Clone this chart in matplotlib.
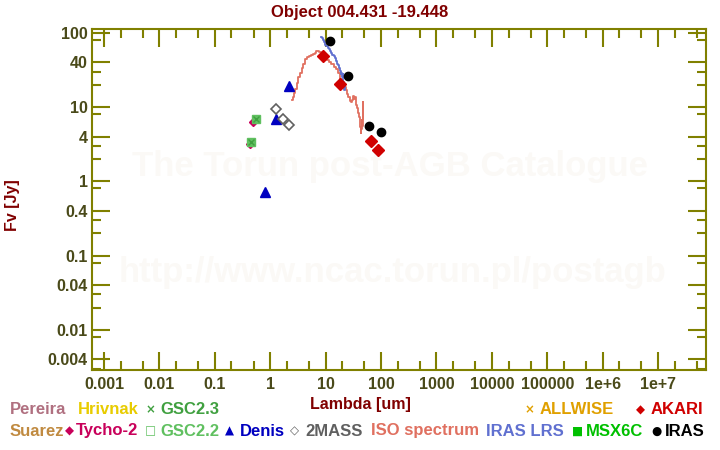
import matplotlib.pyplot as plt
from matplotlib.ticker import FixedLocator, FixedFormatter

plt.rcParams['font.family'] = ['Liberation Sans', 'DejaVu Sans']
plt.rcParams['font.weight'] = 'bold'

# photometry: wavelength [um], flux [Jy]
iras_wl = [12, 25, 60, 100]
iras_fl = [76.6, 25.9, 5.5, 4.56]
akari_wl = [9, 18, 65, 90]
akari_fl = [48.5, 20.2, 3.45, 2.61]
denis_wl = [0.82, 1.25, 2.17]
denis_fl = [0.72, 6.8, 19.4]
tmass_wl = [1.27, 1.7, 2.2]
tmass_fl = [9.3, 6.8, 5.8]
tycho_wl = [0.43, 0.496]
tycho_fl = [3.18, 6.3]
gsc22_wl = [0.456, 0.561]
gsc22_fl = [3.41, 6.8]
gsc23_wl = [0.456, 0.561]
gsc23_fl = [3.41, 6.8]

# ISO spectrum
iso_wl = [2.45, 2.6, 2.75, 2.9, 3.1, 3.3, 3.55, 3.8, 4.1, 4.4, 4.8, 5.2, 5.6, 6.2,
          6.6, 6.9, 7.3, 7.9, 8.5, 9.2, 10.0, 11.1, 12.2, 13.3, 14.5, 16.0, 17.3,
          18.8, 20.0, 21.2, 22.3, 23.5, 25.0, 26.4, 27.8, 29.0, 30.5, 31.6, 32.8,
          34.0, 35.3, 36.5, 37.8, 39.0, 40.5, 41.5, 42.5, 43.4, 44.2, 45.3, 46.2,
          47.0, 47.8, 48.2]
iso_fl = [12.3, 13.5, 15.5, 17.5, 21.0, 25.0, 28.5, 33.5, 38.0, 44.0, 47.0, 49.0,
          50.0, 51.5, 54.0, 56.5, 56.0, 55.0, 52.5, 49.0, 46.5, 43.0, 40.5, 38.0,
          35.0, 32.0, 28.5, 24.0, 21.5, 20.0, 18.5, 17.0, 15.0, 13.5, 12.0, 11.5,
          12.5, 14.0, 13.0, 13.5, 12.5, 10.5, 9.6, 8.2, 7.3, 6.2, 5.4, 4.4, 5.0,
          6.7, 5.5, 8.0, 11.5, 7.0]

# IRAS LRS spectrum
lrs_wl = [8.3, 8.6, 9.0, 9.5, 10.1, 10.6, 11.2, 11.8, 12.4, 13.0, 13.6, 14.3,
          15.0, 15.6, 16.4, 17.0, 17.6, 18.3, 19.0, 19.6, 20.0, 20.4, 21.0,
          21.6, 22.2, 22.6]
lrs_fl = [88, 85, 80, 74, 69, 66, 62, 60, 57, 54, 50, 48, 45, 42, 38, 37, 33,
          31, 28, 29, 25, 28, 22, 20, 17, 19]

# axis ticks
x_major = [1e-3, 1e-2, 1e-1, 1, 10, 100, 1e3, 1e4, 1e5, 1e6, 1e7]
x_labels = ['0.001', '0.01', '0.1', '1', '10', '100', '1000', '10000',
            '100000', '1e+6', '1e+7']
y_major = [0.004, 0.01, 0.04, 0.1, 0.4, 1, 4, 10, 40, 100]
y_labels = ['0.004', '0.01', '0.04', '0.1', '0.4', '1', '4', '10', '40', '100']

# legend rows: (symbol, symbol x, label, label x, y, colour)
legend_items = [
    ('', 0, 'Pereira', 10, 410, '#b07080'),
    ('', 0, 'Hrivnak', 78, 410, '#e8cc00'),
    ('×', 146, 'GSC2.3', 160, 410, '#40a040'),
    ('×', 525, 'ALLWISE', 540, 410, '#e0a000'),
    ('◆', 636, 'AKARI', 651, 410, '#d00000'),
    ('', 0, 'Suarez', 10, 431, '#c08a40'),
    ('◆', 65, 'Tycho-2', 76, 431, '#c8005a'),
    ('□', 145, 'GSC2.2', 160, 431, '#60c060'),
    ('▲', 225, 'Denis', 240, 431, '#0000c0'),
    ('◇', 290, '2MASS', 305, 431, '#606060'),
    ('', 0, 'ISO spectrum', 371, 431, '#e07060'),
    ('', 0, 'IRAS LRS', 486, 431, '#6070d0'),
    ('■', 572, 'MSX6C', 586, 431, '#00c000'),
    ('●', 651, 'IRAS', 665, 431, '#000000'),
]

W, H = 720, 450
axis_col = '#808000'
text_col = '#4a4a1a'
red_col = '#800000'

fig = plt.figure(figsize=(7.2, 4.5), dpi=100)
ax = fig.add_axes([92 / W, 1 - 370 / H, 614 / W, 341 / H])
ax.set_xscale('log')
ax.set_yscale('log')
ax.set_xlim(10 ** -3.217, 10 ** 7.866)
ax.set_ylim(10 ** -2.54, 10 ** 2.05)

# watermark
ax.text(0.486, 0.598, 'The Torun post-AGB Catalogue', transform=ax.transAxes,
        ha='center', va='center', fontsize=25, color='#fbf9f6', zorder=0)
ax.text(0.489, 0.285, 'http://www.ncac.torun.pl/postagb', transform=ax.transAxes,
        ha='center', va='center', fontsize=25, color='#fbf9f6', zorder=0)

ax.plot(iso_wl, iso_fl, color='#e07060', lw=1.3, drawstyle='steps-mid', zorder=2)
ax.plot(lrs_wl, lrs_fl, color='#6070d0', lw=1.3, drawstyle='steps-mid', zorder=3)

ax.plot(tycho_wl, tycho_fl, 'D', color='#c8005a', ms=4, zorder=4)
ax.plot(gsc22_wl, gsc22_fl, 's', mfc='#60c060', mec='#60c060', ms=6, zorder=5)
ax.plot(gsc23_wl, gsc23_fl, 'x', color='#40a040', ms=4, mew=1, zorder=6)
ax.plot(denis_wl, denis_fl, '^', color='#0000c0', ms=7, zorder=5)
ax.plot(tmass_wl, tmass_fl, 'D', mfc='white', mec='#606060', mew=1.2, ms=5.5, zorder=5)
ax.plot(akari_wl, akari_fl, 'D', color='#d00000', ms=6.5, zorder=5)
ax.plot(iras_wl, iras_fl, 'o', color='black', ms=6, zorder=6)

ax.xaxis.set_major_locator(FixedLocator(x_major))
ax.xaxis.set_major_formatter(FixedFormatter(x_labels))
ax.xaxis.set_minor_locator(FixedLocator([m * d for d in x_major for m in (2, 5)]))
ax.yaxis.set_major_locator(FixedLocator(y_major))
ax.yaxis.set_major_formatter(FixedFormatter(y_labels))
y_dec = [1e-3, 1e-2, 1e-1, 1, 10, 100]
ax.yaxis.set_minor_locator(FixedLocator([m * d for d in y_dec for m in (2, 3, 8)]))
ax.xaxis.set_minor_formatter(FixedFormatter([]))
ax.yaxis.set_minor_formatter(FixedFormatter([]))

ax.tick_params(which='both', direction='in', top=True, right=True,
               color=axis_col, width=1.5, labelcolor=text_col, labelsize=11.5)
ax.tick_params(which='major', length=13)
ax.tick_params(which='minor', length=6.5)
ax.tick_params(axis='x', pad=5)
ax.tick_params(axis='y', pad=3)
for s in ax.spines.values():
    s.set_color(axis_col)
    s.set_linewidth(1.5)

fig.text(360 / W, 1 - 12 / H, 'Object 004.431 -19.448', ha='center', va='center',
         fontsize=12, color=red_col)
fig.text(360 / W, 1 - 404 / H, 'Lambda [um]', ha='center', va='center',
         fontsize=11.5, color=red_col)
fig.text(13 / W, 1 - 205 / H, 'Fv [Jy]', ha='center', va='center', rotation=90,
         fontsize=11.5, color=red_col)

for sym, sx, lab, lx, ly, col in legend_items:
    if sym:
        fig.text(sx / W, 1 - ly / H, sym, ha='left', va='center', fontsize=8.5,
                 color=col, family=['DejaVu Sans'])
    fig.text(lx / W, 1 - ly / H, lab, ha='left', va='center', fontsize=12,
             color=col)

fig.savefig('out.png', dpi=100)
